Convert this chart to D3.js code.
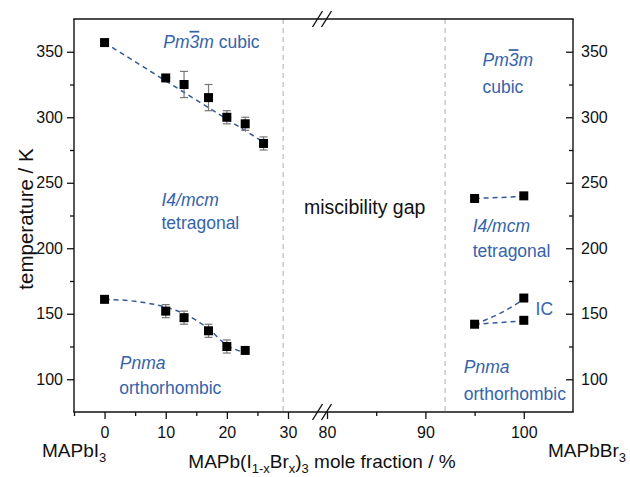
<!DOCTYPE html>
<html>
<head>
<meta charset="utf-8">
<script src="https://cdn.jsdelivr.net/npm/d3@7"></script>
<style>
  body { margin: 0; background: #fff; }
  svg { font-family: 'Liberation Sans', Arial, sans-serif; }
</style>
</head>
<body>
<svg id="chart" width="630" height="477"></svg>
<script>
// measured transition temperatures (K) vs Br mole fraction (%)
const cubicX = [0, 10, 13, 17, 20, 23, 26]
const cubicT = [357, 330, 325, 315, 300, 295, 280]
const cubicErr = [0, 0, 10, 10, 5, 5, 5]
const orthoX = [0, 10, 13, 17, 20, 23]
const orthoT = [161, 152, 147, 137, 125, 122]
const orthoErr = [0, 5, 5, 5, 5, 0]
const brX = [95, 100, 95, 100, 100]
const brT = [238, 240, 142, 162, 145]

// dashed guide lines
const cubicFitX = [0, 26]
const cubicFitT = [357, 281]
const orthoFitX = [0, 5, 10, 13, 17, 20, 22.4]
const orthoFitT = [161, 159.5, 155, 150, 138.5, 126, 121]
const tetraFitX = [95, 100]
const tetraFitT = [238, 239.5]
const icFitX = [95, 97.5, 100]
const icFitT = [142, 150, 161]
const icLowFitX = [95, 100]
const icLowFitT = [142, 144.5]

// axis ticks
const leftTicks = [0, 10, 20, 30]
const leftMinor = [-5, 5, 15, 25]
const rightTicks = [80, 90, 100]
const rightMinor = [85, 95]
const yTicks = [100, 150, 200, 250, 300, 350]
const yMinor = [125, 175, 225, 275, 325]
const gapLines = [29.2, 92]

const blue = '#3563aa'
const fitColor = '#34589a'

const svg = d3.select('#chart')
const mTop = 19, mBottom = 412, mLeft = 74, mRight = 573, breakX = 322

const y = d3.scaleLinear().domain([75, 375]).range([mBottom, mTop])
const xl = d3.scaleLinear().domain([-5, 30]).range([74, 288])
const xr = d3.scaleLinear().domain([80, 105]).range([327, 573])
const x = v => (v < 50 ? xl(v) : xr(v))

// miscibility gap boundaries
svg.append('g')
  .selectAll('line')
  .data(gapLines)
  .enter()
  .append('line')
  .attr('x1', d => x(d))
  .attr('x2', d => x(d))
  .attr('y1', mTop)
  .attr('y2', mBottom)
  .attr('stroke', '#bbbbbb')
  .attr('stroke-width', 1.2)
  .attr('stroke-dasharray', '5,4')

// frame: left, right, top and bottom lines
const frame = svg.append('g').attr('stroke', '#111').attr('stroke-width', 1.4)
frame.append('line').attr('x1', mLeft).attr('x2', mLeft).attr('y1', mTop).attr('y2', mBottom)
frame.append('line').attr('x1', mRight).attr('x2', mRight).attr('y1', mTop).attr('y2', mBottom)
frame.append('line').attr('x1', mLeft - 0.7).attr('x2', mRight + 0.7).attr('y1', mTop).attr('y2', mTop)
frame.append('line').attr('x1', mLeft - 0.7).attr('x2', mRight + 0.7).attr('y1', mBottom).attr('y2', mBottom)

// break marks
;[mTop, mBottom].forEach(yy => {
  ;[-4.5, 4.5].forEach(dx => {
    svg.append('line')
      .attr('x1', breakX + dx - 5).attr('y1', yy + 8)
      .attr('x2', breakX + dx + 5).attr('y2', yy - 8)
      .attr('stroke', '#111').attr('stroke-width', 1.4)
  })
})

// left y axis (ticks outside)
const yAxisL = svg.append('g').attr('transform', `translate(${mLeft},0)`)
yAxisL.call(d3.axisLeft(y).tickValues(yTicks).tickSize(7).tickPadding(4))
yAxisL.call(g => g.select('.domain').remove())
yAxisL.selectAll('text').style('font-size', '16px').style('fill', '#111')
yAxisL.selectAll('line').attr('stroke', '#111').attr('stroke-width', 1.3)
svg.append('g').attr('transform', `translate(${mLeft},0)`)
  .call(d3.axisLeft(y).tickValues(yMinor).tickSize(4).tickFormat(''))
  .call(g => g.select('.domain').remove())
  .selectAll('line').attr('stroke', '#111').attr('stroke-width', 1.3)

// right y axis (ticks inside)
const yAxisR = svg.append('g').attr('transform', `translate(${mRight},0)`)
yAxisR.call(d3.axisRight(y).tickValues(yTicks).tickSizeInner(-7).tickSizeOuter(0).tickPadding(8))
yAxisR.call(g => g.select('.domain').remove())
yAxisR.selectAll('text').style('font-size', '16px').style('fill', '#111')
yAxisR.selectAll('line').attr('stroke', '#111').attr('stroke-width', 1.3)
svg.append('g').attr('transform', `translate(${mRight},0)`)
  .call(d3.axisRight(y).tickValues(yMinor).tickSizeInner(-4).tickSizeOuter(0).tickFormat(''))
  .call(g => g.select('.domain').remove())
  .selectAll('line').attr('stroke', '#111').attr('stroke-width', 1.3)

// bottom x axis, two segments
;[[xl, leftTicks, leftMinor], [xr, rightTicks, rightMinor]].forEach(([sc, maj, min]) => {
  const gMaj = svg.append('g').attr('transform', `translate(0,${mBottom})`)
  gMaj.call(d3.axisBottom(sc).tickValues(maj).tickSize(7).tickPadding(8))
  gMaj.call(g => g.select('.domain').remove())
  gMaj.selectAll('text').style('font-size', '16px').style('fill', '#111')
  gMaj.selectAll('line').attr('stroke', '#111').attr('stroke-width', 1.3)
  svg.append('g').attr('transform', `translate(0,${mBottom})`)
    .call(d3.axisBottom(sc).tickValues(min).tickSize(4).tickFormat(''))
    .call(g => g.select('.domain').remove())
    .selectAll('line').attr('stroke', '#111').attr('stroke-width', 1.3)
})

// dashed guide curves
const line = d3.line().x(d => x(d[0])).y(d => y(d[1]))
const fits = [
  [cubicFitX, cubicFitT, d3.curveLinear],
  [orthoFitX, orthoFitT, d3.curveMonotoneX],
  [tetraFitX, tetraFitT, d3.curveLinear],
  [icFitX, icFitT, d3.curveMonotoneX],
  [icLowFitX, icLowFitT, d3.curveLinear]
]
fits.forEach(([xs, ts, curve]) => {
  svg.append('path')
    .datum(d3.zip(xs, ts))
    .attr('d', line.curve(curve))
    .attr('fill', 'none')
    .attr('stroke', fitColor)
    .attr('stroke-width', 1.5)
    .attr('stroke-dasharray', '5,4')
})

// error bars
const errData = d3.zip(cubicX, cubicT, cubicErr).concat(d3.zip(orthoX, orthoT, orthoErr))
  .filter(d => d[2] > 0)
const eb = svg.append('g').attr('stroke', '#777').attr('stroke-width', 1.2)
errData.forEach(([xv, t, e]) => {
  const cx = x(xv)
  eb.append('line').attr('x1', cx).attr('x2', cx).attr('y1', y(t - e)).attr('y2', y(t + e))
  eb.append('line').attr('x1', cx - 4).attr('x2', cx + 4).attr('y1', y(t - e)).attr('y2', y(t - e))
  eb.append('line').attr('x1', cx - 4).attr('x2', cx + 4).attr('y1', y(t + e)).attr('y2', y(t + e))
})

// points
const pts = d3.zip(cubicX, cubicT).concat(d3.zip(orthoX, orthoT), d3.zip(brX, brT))
const sz = 9
svg.append('g')
  .selectAll('rect')
  .data(pts)
  .enter()
  .append('rect')
  .attr('x', d => x(d[0]) - sz / 2)
  .attr('y', d => y(d[1]) - sz / 2)
  .attr('width', sz)
  .attr('height', sz)
  .attr('fill', '#000')

// phase labels
const label = (xv, t, parts, color, size) => {
  const txt = svg.append('text')
    .attr('x', x(xv))
    .attr('y', y(t))
    .style('font-size', size || '17.5px')
    .style('fill', color || blue)
  parts.forEach(p => {
    const ts = txt.append('tspan').text(p.t)
    if (p.i) ts.style('font-style', 'italic')
    if (p.o) ts.style('text-decoration', 'overline')
  })
  return txt
}
const pm3m = [{ t: 'Pm', i: 1 }, { t: '3', i: 1, o: 1 }, { t: 'm', i: 1 }]

label(9.6, 353, pm3m.concat([{ t: ' cubic' }]))
label(9.3, 232.5, [{ t: 'I4/mcm', i: 1 }])
label(9.3, 215, [{ t: 'tetragonal' }])
label(2.5, 107.5, [{ t: 'Pnma', i: 1 }])
label(2.4, 88.5, [{ t: 'orthorhombic' }])
label(xl.invert(304), 226.5, [{ t: 'miscibility gap' }], '#111', '19.5px')

label(95.8, 339, pm3m)
label(95.8, 318.5, [{ t: 'cubic' }])
label(94.8, 212.5, [{ t: 'I4/mcm', i: 1 }])
label(94.8, 193.5, [{ t: 'tetragonal' }])
label(101.2, 149, [{ t: 'IC' }])
label(93.9, 104.5, [{ t: 'Pnma', i: 1 }])
label(93.9, 84.5, [{ t: 'orthorhombic' }])

// axis titles
svg.append('text')
  .attr('transform', `translate(33,219) rotate(-90)`)
  .attr('text-anchor', 'middle')
  .style('font-size', '20.5px')
  .style('fill', '#111')
  .text('temperature / K')

const subText = (xx, yy, parts, anchor) => {
  const t = svg.append('text')
    .attr('x', xx).attr('y', yy)
    .attr('text-anchor', anchor || 'start')
    .style('font-size', '19px')
    .style('fill', '#111')
  let shifted = false
  parts.forEach(p => {
    const ts = t.append('tspan').text(p.t)
    if (p.s && !shifted) { ts.attr('dy', 5).style('font-size', '13px'); shifted = true }
    else if (p.s) ts.style('font-size', '13px')
    else if (shifted) { ts.attr('dy', -5); shifted = false }
  })
}
subText(42, 457, [{ t: 'MAPbI' }, { t: '3', s: 1 }])
subText(548, 457, [{ t: 'MAPbBr' }, { t: '3', s: 1 }])
subText(322, 468, [{ t: 'MAPb(I' }, { t: '1-x', s: 1 }, { t: 'Br' }, { t: 'x', s: 1 }, { t: ')' }, { t: '3', s: 1 }, { t: ' mole fraction / %' }], 'middle')
</script>
</body>
</html>
